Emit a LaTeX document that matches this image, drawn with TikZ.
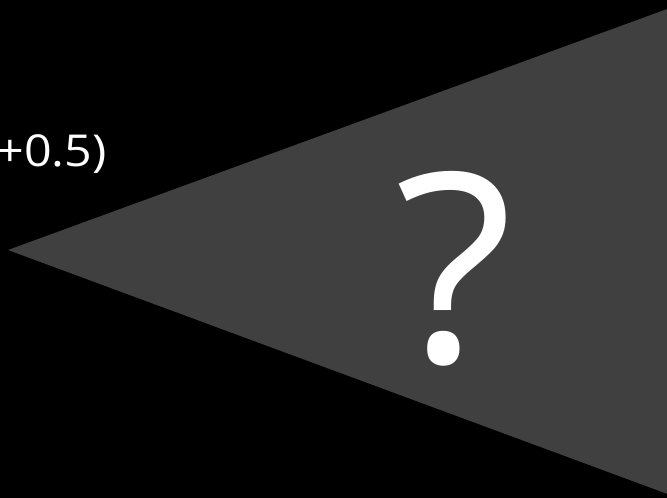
\documentclass[tikz,border=0pt]{standalone}
\usepackage{fontspec}
\setmainfont{Open Sans}
\definecolor{tri}{RGB}{64,64,64}
\begin{document}
\begin{tikzpicture}[x=1pt,y=-1pt,
  lbl/.style={text=white,inner sep=0pt,font=\fontsize{44}{44}\selectfont},
  qm/.style={text=white,inner sep=0pt,font=\fontsize{264}{264}\selectfont}]
\fill[black] (0,0) rectangle (667,498);
\useasboundingbox (0,0) rectangle (667,498);
\fill[tri] (8,250) -- (700,-3) -- (700,506) -- cycle;
\node[lbl,anchor=base east,xscale=1.1] (t) at (107,166) {+0.5)};
\node[qm,anchor=base,xscale=1.04] (q) at (454,362) {?};
\end{tikzpicture}
\end{document}
